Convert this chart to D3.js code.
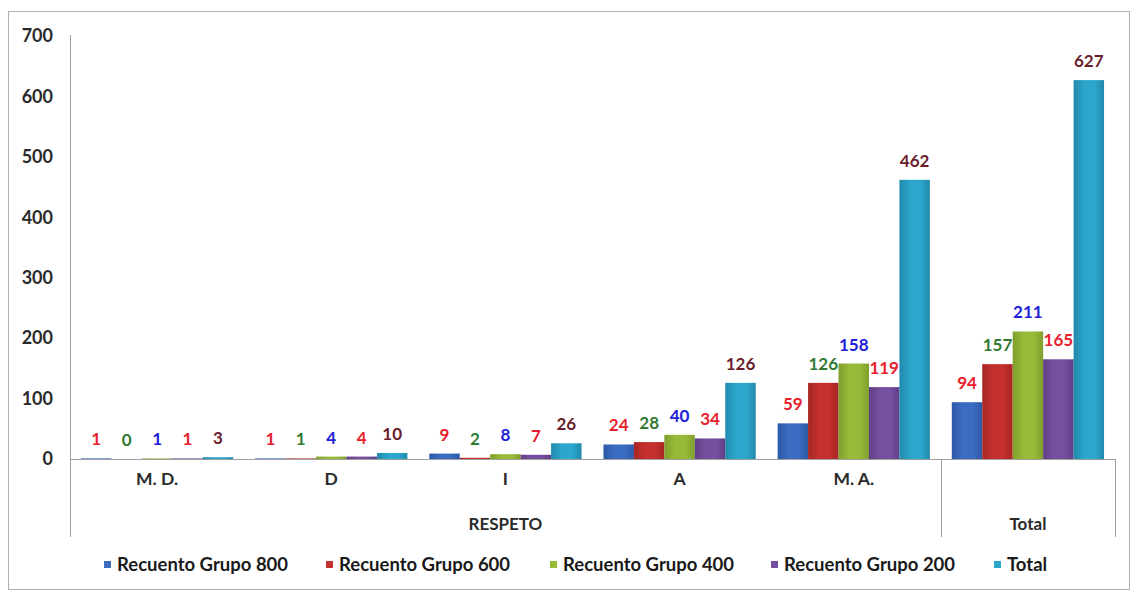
<!DOCTYPE html>
<html><head><meta charset="utf-8">
<script src="https://cdn.jsdelivr.net/npm/d3@7/dist/d3.min.js"></script>
<style>body{margin:0;background:#fff;}svg{display:block;}</style>
</head><body>
<svg id="c" width="1130" height="591"></svg>
<script>
const categories = ["M. D.", "D", "I", "A", "M. A.", "Total"];
const outerGroups = [{name:"RESPETO", from:0, to:4}, {name:"Total", from:5, to:5}];
const seriesNames = ["Recuento Grupo 800", "Recuento Grupo 600", "Recuento Grupo 400", "Recuento Grupo 200", "Total"];
const grupo800 = [1, 1, 9, 24, 59, 94];
const grupo600 = [0, 1, 2, 28, 126, 157];
const grupo400 = [1, 4, 8, 40, 158, 211];
const grupo200 = [1, 4, 7, 34, 119, 165];
const totals   = [3, 10, 26, 126, 462, 627];
const yTicks = [0, 100, 200, 300, 400, 500, 600, 700];

(function(){
const seriesValues = [grupo800, grupo600, grupo400, grupo200, totals];
const barColors = ["#3a6cc2", "#c3302d", "#98ba39", "#7650a0", "#2ca6cc"];
const barDark   = ["#2d58a6", "#a72624", "#7f9e2c", "#5f3f86", "#2189ab"];
const labelColors = ["#e8202c", "#2f7a30", "#2020d8", "#e8202c", "#6a1e2c"];

const svg = d3.select("#c");
const mLeft = 70, mRight = 1115, mTop = 36, base = 459;
const font = "Lato, 'Open Sans', sans-serif";

svg.append("rect").attr("x", 8.5).attr("y", 11.5).attr("width", 1121).attr("height", 578)
  .attr("fill", "#fff").attr("stroke", "#b0b0b0").attr("stroke-width", 1);

const defs = svg.append("defs");
barColors.forEach((c, i) => {
  const g = defs.append("linearGradient").attr("id", "g" + i).attr("x1", "0").attr("x2", "1").attr("y1", "0").attr("y2", "0");
  g.append("stop").attr("offset", "0").attr("stop-color", barDark[i]);
  g.append("stop").attr("offset", "0.35").attr("stop-color", c);
  g.append("stop").attr("offset", "0.7").attr("stop-color", c);
  g.append("stop").attr("offset", "1").attr("stop-color", barDark[i]);
});

const x0 = d3.scaleBand().domain(categories).range([mLeft, mRight]).paddingInner(0).paddingOuter(0);
const x1 = d3.scaleBand().domain(d3.range(seriesNames.length)).range([0, x0.bandwidth()]).paddingInner(0).paddingOuter(0.36);
const y = d3.scaleLinear().domain([0, 700]).range([base, mTop]);

const yAxis = d3.axisLeft(y).tickValues(yTicks).tickSize(0).tickPadding(17);
const ya = svg.append("g").attr("transform", `translate(${mLeft},0)`).call(yAxis);
ya.select(".domain").attr("stroke", "#a0a0a0").attr("d", `M0.5,${mTop - 1}V${base}`);
ya.selectAll("text").attr("font-family", font).attr("font-weight", "bold").attr("font-size", 18).attr("fill", "#2a2a2a");

const groups = svg.append("g").selectAll("g").data(categories).join("g")
  .attr("transform", d => `translate(${x0(d)},0)`);
groups.each(function(cat, ci) {
  const g = d3.select(this);
  seriesValues.forEach((vals, si) => {
    const v = vals[ci];
    g.append("rect").attr("x", x1(si)).attr("width", x1.bandwidth())
      .attr("y", y(v)).attr("height", base - y(v)).attr("fill", `url(#g${si})`);
  });
  seriesValues.forEach((vals, si) => {
    const v = vals[ci];
    g.append("text").attr("x", x1(si) + x1.bandwidth() / 2).attr("y", y(v) - 13)
      .attr("text-anchor", "middle").attr("font-family", font).attr("font-weight", "bold")
      .attr("font-size", 17).attr("fill", labelColors[si]).text(v);
  });
});

svg.append("line").attr("x1", mLeft).attr("x2", mRight).attr("y1", base + 0.5).attr("y2", base + 0.5).attr("stroke", "#a0a0a0");
const sepX = [mLeft, x0(categories[5]), mRight];
sepX.forEach(sx => {
  svg.append("line").attr("x1", Math.round(sx) + 0.5).attr("x2", Math.round(sx) + 0.5)
    .attr("y1", base).attr("y2", 537).attr("stroke", "#a0a0a0");
});
svg.append("g").selectAll("text").data(categories).join("text")
  .attr("x", d => x0(d) + x0.bandwidth() / 2).attr("y", 485)
  .attr("text-anchor", "middle").attr("font-family", font).attr("font-weight", "bold")
  .attr("font-size", 17.5).attr("fill", "#2a2a2a").text(d => d === "Total" ? "" : d);
svg.append("g").selectAll("text").data(outerGroups).join("text")
  .attr("x", d => (x0(categories[d.from]) + x0(categories[d.to]) + x0.bandwidth()) / 2)
  .attr("y", 530).attr("text-anchor", "middle").attr("font-family", font).attr("font-weight", "bold")
  .attr("font-size", 17).attr("fill", "#2a2a2a").text(d => d.name);

const legX = [104, 326, 550, 771, 994];
const leg = svg.append("g").selectAll("g").data(seriesNames).join("g")
  .attr("transform", (d, i) => `translate(${legX[i]},561)`);
leg.append("rect").attr("width", 7).attr("height", 7).attr("fill", (d, i) => barColors[i]);
leg.append("text").attr("x", 13).attr("y", 10).attr("font-family", font).attr("font-weight", "bold")
  .attr("font-size", 18.5).attr("fill", "#1a1a1a").text(d => d);
})();
</script>
</body></html>
